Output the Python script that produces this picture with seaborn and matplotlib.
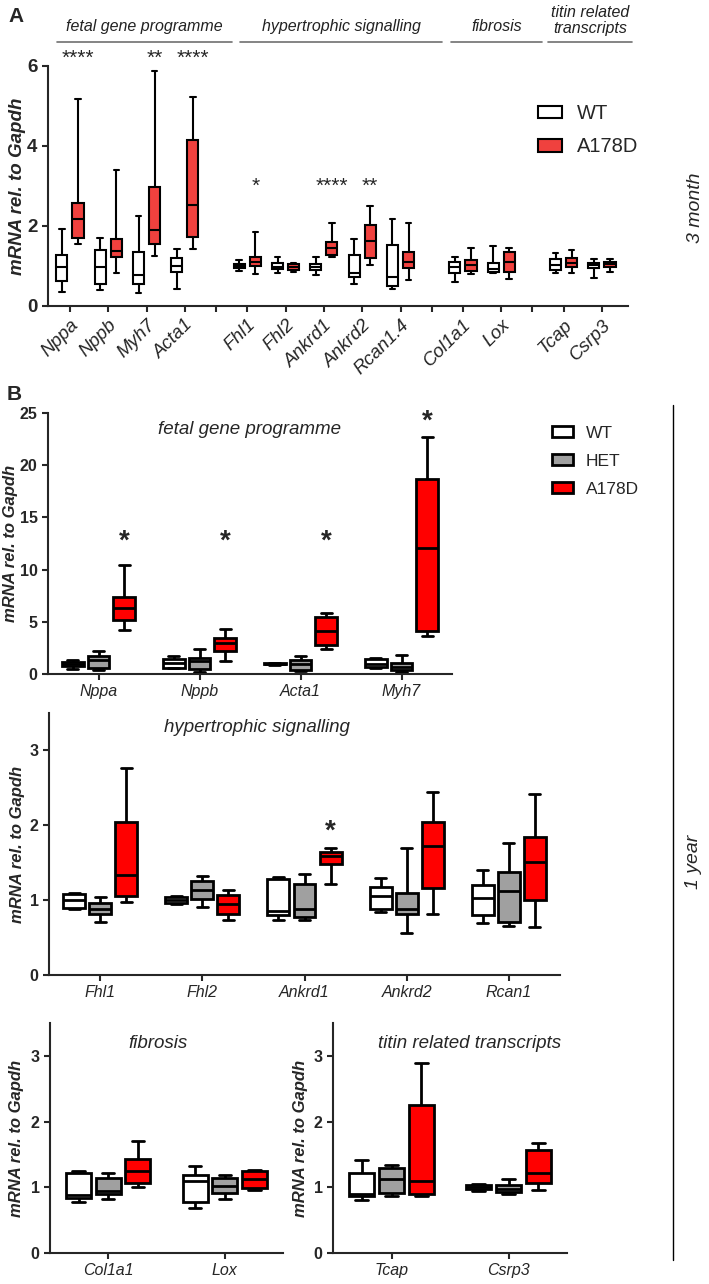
import matplotlib
matplotlib.use("Agg")
import matplotlib.pyplot as plt
import seaborn as sns
import pandas as pd
from matplotlib.patches import Patch
from matplotlib.lines import Line2D

# each box is given as (min, q1, median, q3, max)

# ---- A: 3 month ----
a_genes = ["Nppa", "Nppb", "Myh7", "Acta1",
           "Fhl1", "Fhl2", "Ankrd1", "Ankrd2", "Rcan1.4",
           "Col1a1", "Lox",
           "Tcap", "Csrp3"]
a_group_sizes = [4, 5, 2, 2]
a_group_names = ["fetal gene programme", "hypertrophic signalling",
                 "fibrosis", "titin related\ntranscripts"]
a_wt = [
    [0.36, 0.63, 0.98, 1.28, 1.92],
    [0.40, 0.54, 0.97, 1.40, 1.69],
    [0.33, 0.55, 0.78, 1.36, 2.25],
    [0.42, 0.84, 1.01, 1.19, 1.42],
    [0.88, 0.94, 1.00, 1.05, 1.15],
    [0.83, 0.93, 0.98, 1.07, 1.22],
    [0.78, 0.90, 0.98, 1.05, 1.23],
    [0.55, 0.73, 0.82, 1.27, 1.67],
    [0.42, 0.50, 0.72, 1.53, 2.17],
    [0.61, 0.83, 0.97, 1.11, 1.23],
    [0.82, 0.86, 0.93, 1.07, 1.50],
    [0.83, 0.90, 1.03, 1.17, 1.33],
    [0.71, 0.94, 1.03, 1.08, 1.17],
]
a_a178d = [
    [1.55, 1.69, 2.17, 2.57, 5.17],
    [0.83, 1.22, 1.38, 1.67, 3.40],
    [1.25, 1.54, 1.90, 2.98, 5.88],
    [1.43, 1.72, 2.53, 4.15, 5.23],
    [0.80, 1.01, 1.11, 1.23, 1.86],
    [0.86, 0.90, 0.98, 1.05, 1.08],
    [1.22, 1.27, 1.44, 1.61, 2.07],
    [1.03, 1.19, 1.63, 2.03, 2.50],
    [0.65, 0.94, 1.11, 1.36, 2.07],
    [0.80, 0.88, 1.02, 1.15, 1.44],
    [0.67, 0.86, 1.10, 1.36, 1.44],
    [0.83, 0.97, 1.07, 1.19, 1.40],
    [0.84, 0.98, 1.05, 1.11, 1.17],
]
a_stars = ["****", "", "**", "****",
           "*", "", "****", "**", "",
           "", "",
           "", ""]
a_star_level = [6.2, 3.0, 3.0, 3.0]

# ---- B: 1 year ----
b_fetal_genes = ["Nppa", "Nppb", "Acta1", "Myh7"]
b_fetal_wt = [
    [0.45, 0.75, 0.95, 1.15, 1.30],
    [0.55, 0.60, 1.05, 1.45, 1.75],
    [0.90, 0.95, 1.00, 1.05, 1.10],
    [0.60, 0.70, 1.00, 1.40, 1.50],
]
b_fetal_het = [
    [0.40, 0.60, 1.30, 1.75, 2.25],
    [0.15, 0.48, 1.20, 1.55, 2.40],
    [0.25, 0.40, 0.95, 1.30, 1.75],
    [0.20, 0.35, 0.70, 1.05, 1.80],
]
b_fetal_a178d = [
    [4.20, 5.20, 6.30, 7.40, 10.4],
    [1.20, 2.20, 2.95, 3.45, 4.35],
    [2.35, 2.75, 4.15, 5.45, 5.85],
    [3.60, 4.10, 12.1, 18.7, 22.7],
]
b_fetal_stars = ["*", "*", "*", "*"]
b_fetal_star_y = [12.7, 12.7, 12.7, 24.2]

b_hyper_genes = ["Fhl1", "Fhl2", "Ankrd1", "Ankrd2", "Rcan1"]
b_hyper_wt = [
    [0.88, 0.90, 1.00, 1.08, 1.10],
    [0.95, 0.96, 1.00, 1.04, 1.05],
    [0.73, 0.80, 0.86, 1.28, 1.31],
    [0.84, 0.88, 1.05, 1.18, 1.29],
    [0.70, 0.80, 1.03, 1.20, 1.40],
]
b_hyper_het = [
    [0.71, 0.81, 0.88, 0.96, 1.04],
    [0.91, 1.02, 1.13, 1.25, 1.32],
    [0.74, 0.77, 0.88, 1.21, 1.35],
    [0.56, 0.81, 0.88, 1.10, 1.69],
    [0.65, 0.71, 1.12, 1.38, 1.76],
]
b_hyper_a178d = [
    [0.98, 1.05, 1.34, 2.04, 2.77],
    [0.74, 0.82, 0.95, 1.07, 1.14],
    [1.21, 1.48, 1.59, 1.64, 1.70],
    [0.82, 1.16, 1.72, 2.04, 2.44],
    [0.64, 1.00, 1.51, 1.85, 2.42],
]
b_hyper_stars = ["", "", "*", "", ""]
b_hyper_star_y = [0, 0, 1.91, 0, 0]

b_fib_genes = ["Col1a1", "Lox"]
b_fib_wt = [[0.77, 0.83, 0.88, 1.22, 1.25], [0.68, 0.77, 1.10, 1.19, 1.32]]
b_fib_het = [[0.82, 0.90, 0.95, 1.14, 1.22], [0.82, 0.91, 1.02, 1.14, 1.19]]
b_fib_a178d = [[1.00, 1.07, 1.25, 1.43, 1.71], [0.96, 0.99, 1.13, 1.25, 1.27]]

b_titin_genes = ["Tcap", "Csrp3"]
b_titin_wt = [[0.80, 0.86, 0.90, 1.21, 1.41], [0.95, 0.97, 1.00, 1.03, 1.05]]
b_titin_het = [[0.87, 0.92, 1.12, 1.30, 1.34], [0.90, 0.93, 0.98, 1.04, 1.13]]
b_titin_a178d = [[0.86, 0.90, 1.10, 2.25, 2.89], [0.96, 1.07, 1.22, 1.56, 1.67]]

RED_A = "#F0413E"
RED_B = "#FF0000"
GREY = "#A0A0A0"
YLAB = "mRNA rel. to Gapdh"

sns.set_style("ticks")
plt.rcParams["font.family"] = ["Liberation Sans", "DejaVu Sans"]
plt.rcParams["axes.linewidth"] = 1.5
plt.rcParams["xtick.major.width"] = 1.5
plt.rcParams["ytick.major.width"] = 1.5
plt.rcParams["xtick.major.size"] = 4
plt.rcParams["ytick.major.size"] = 4


def long_df(keys, series):
    rows = []
    for name, boxes in series.items():
        for k, box in zip(keys, boxes):
            for v in box:
                rows.append({"x": k, "genotype": name, "value": v})
    return pd.DataFrame(rows)


W, H = 709, 1284
fig = plt.figure(figsize=(W / 100, H / 100), dpi=100)


def px_axes(l, t, r, b):
    return fig.add_axes([l / W, 1 - b / H, (r - l) / W, (b - t) / H])


def fx(x):
    return x / W


def fy(y):
    return 1 - y / H


def ylabel(ax, size, xcoord):
    ax.set_ylabel(YLAB, fontsize=size, fontweight="bold", style="italic")
    ax.yaxis.label.set_verticalalignment("center")
    ax.yaxis.set_label_coords(xcoord, 0.5)


# ================= A =================
GAP = 0.63
a_pos, blank_ticks, group_ranges = [], [], []
p = 0.0
for gi, n in enumerate(a_group_sizes):
    if gi:
        blank_ticks.append(p - 1 + (1 + GAP) / 2)
        p += GAP
    group_ranges.append((p, p + n - 1))
    for _ in range(n):
        a_pos.append(p)
        p += 1

axA = px_axes(48, 66, 628, 306)
dfA = long_df(a_pos, {"WT": a_wt, "A178D": a_a178d})
sns.boxplot(data=dfA, x="x", y="value", hue="genotype", hue_order=["WT", "A178D"],
            palette={"WT": "white", "A178D": RED_A}, native_scale=True, saturation=1,
            whis=(0, 100), width=0.84, gap=0.31, linewidth=1.5, linecolor="black",
            fliersize=0, legend=False, ax=axA)
axA.set_xlim(-0.574, 14.57)
axA.set_ylim(0, 6)
axA.set_yticks([0, 2, 4, 6])
ticks = sorted(a_pos + blank_ticks)
labels = [a_genes[a_pos.index(t)] if t in a_pos else "" for t in ticks]
axA.set_xticks(ticks)
axA.set_xticklabels(labels, rotation=45, ha="right", rotation_mode="anchor",
                    style="italic", fontsize=13.5)
for lab in axA.get_yticklabels():
    lab.set_fontweight("bold")
    lab.set_fontsize(13.5)
axA.set_xlabel("")
ylabel(axA, 13.5, -0.052)
sns.despine(ax=axA)

gi = 0
for i, s in enumerate(a_stars):
    while not (group_ranges[gi][0] <= a_pos[i] <= group_ranges[gi][1]):
        gi += 1
    if s:
        axA.text(a_pos[i] + 0.21, a_star_level[gi], s, ha="center", va="center",
                 fontsize=15, clip_on=False)

a_header_px = [(57, 232), (240, 442), (451, 542), (548, 632)]
for (x0, x1), name in zip(a_header_px, a_group_names):
    fig.add_artist(Line2D([fx(x0), fx(x1)], [fy(42), fy(42)], color="#707070", lw=1.2))
    yb = 33 if "\n" in name else 31
    fig.text(fx((x0 + x1) / 2), fy(yb), name, ha="center", va="baseline",
             style="italic", fontsize=11.5, linespacing=1.1, color="#222222")

legA = [Patch(facecolor="white", edgecolor="black", lw=1.5, label="WT"),
        Patch(facecolor=RED_A, edgecolor="black", lw=1.5, label="A178D")]
fig.legend(handles=legA, loc="upper left", bbox_to_anchor=(fx(520), fy(86)),
           frameon=False, fontsize=14.5, handlelength=1.2, handleheight=0.6,
           handletextpad=0.75, labelspacing=0.7)

fig.text(fx(8), fy(17), "A", fontsize=15, fontweight="bold", va="center")
fig.text(fx(695), fy(208), "3 month", rotation=90, style="italic", fontsize=14,
         ha="center", va="center")

# ================= B =================
pal_b = {"WT": "white", "HET": GREY, "A178D": RED_B}
order_b = ["WT", "HET", "A178D"]


def panel_b(ax, genes, wt, het, mut, ylim, yticks, title, title_xy, label_x):
    df = long_df(genes, {"WT": wt, "HET": het, "A178D": mut})
    sns.boxplot(data=df, x="x", y="value", hue="genotype", order=genes,
                hue_order=order_b, palette=pal_b, saturation=1, whis=(0, 100),
                width=0.765, gap=0.16, linewidth=2, linecolor="black", fliersize=0,
                legend=False, ax=ax)
    ax.set_xlim(-0.5, len(genes) - 0.5)
    ax.set_ylim(*ylim)
    ax.set_yticks(yticks)
    ax.set_xlabel("")
    ylabel(ax, 12, label_x)
    for lab in ax.get_xticklabels():
        lab.set_style("italic")
        lab.set_fontsize(11.5)
    for lab in ax.get_yticklabels():
        lab.set_fontweight("bold")
        lab.set_fontsize(11.5)
    fig.text(fx(title_xy[0]), fy(title_xy[1]), title, ha="center", va="center",
             style="italic", fontsize=13.5)
    sns.despine(ax=ax)


def stars_b(ax, stars, ys):
    for i, (s, y) in enumerate(zip(stars, ys)):
        if s:
            ax.text(i + 0.255, y, s, ha="center", va="center", fontsize=20,
                    fontweight="bold", clip_on=False)


axB1 = px_axes(48, 413, 452, 674)
panel_b(axB1, b_fetal_genes, b_fetal_wt, b_fetal_het, b_fetal_a178d,
        (0, 25), [0, 5, 10, 15, 20, 25], "fetal gene programme", (250, 430), -0.092)
stars_b(axB1, b_fetal_stars, b_fetal_star_y)

axB2 = px_axes(49, 713, 560, 975)
panel_b(axB2, b_hyper_genes, b_hyper_wt, b_hyper_het, b_hyper_a178d,
        (0, 3.5), [0, 1, 2, 3], "hypertrophic signalling", (257, 728), -0.061)
stars_b(axB2, b_hyper_stars, b_hyper_star_y)

axB3 = px_axes(50, 1023, 283, 1253)
panel_b(axB3, b_fib_genes, b_fib_wt, b_fib_het, b_fib_a178d,
        (0, 3.5), [0, 1, 2, 3], "fibrosis", (158, 1043), -0.142)

axB4 = px_axes(333, 1023, 567, 1253)
panel_b(axB4, b_titin_genes, b_titin_wt, b_titin_het, b_titin_a178d,
        (0, 3.5), [0, 1, 2, 3], "titin related transcripts", (470, 1043), -0.141)

legB = [Patch(facecolor=pal_b[g], edgecolor="black", lw=2, label=g) for g in order_b]
fig.legend(handles=legB, loc="upper left", bbox_to_anchor=(fx(536), fy(410)),
           frameon=False, fontsize=12.5, handlelength=1.25, handleheight=0.6,
           handletextpad=0.7, labelspacing=0.75)

fig.add_artist(Line2D([fx(672.7), fx(672.7)], [fy(405), fy(1260)], color="black", lw=1))
fig.text(fx(693), fy(862), "1 year", rotation=90, style="italic", fontsize=14,
         ha="center", va="center")
fig.text(fx(7), fy(395), "B", fontsize=15, fontweight="bold", va="center")

fig.savefig("out.png", dpi=100)
